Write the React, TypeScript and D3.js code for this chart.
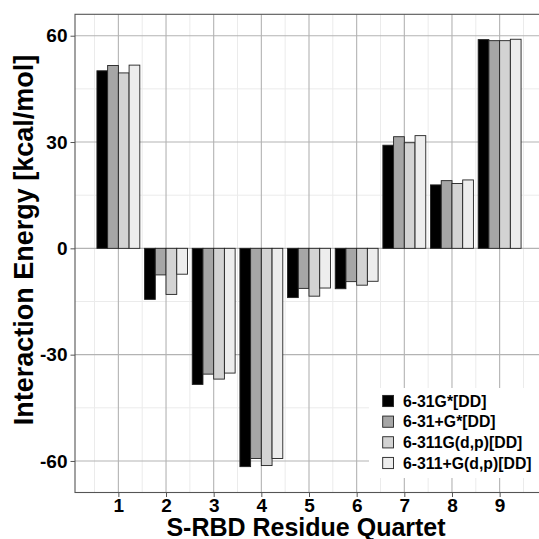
import React, { useRef, useEffect } from 'react';
import * as d3 from 'd3';

// residue quartets on the x axis
const quartets = [1, 2, 3, 4, 5, 6, 7, 8, 9];

// basis sets (legend order)
const basisSets = ['6-31G*[DD]', '6-31+G*[DD]', '6-311G(d,p)[DD]', '6-311+G(d,p)[DD]'];
const basisColors = ['#000000', '#a6a6a6', '#d3d3d3', '#ededed'];

// interaction energies, kcal/mol
const b631G = [50.1, -14.4, -38.4, -61.6, -13.9, -11.4, 29.1, 17.9, 58.9];
const b631pG = [51.6, -7.5, -35.5, -59.3, -11.3, -9.4, 31.5, 19.1, 58.6];
const b6311G = [49.5, -13.0, -36.9, -61.3, -13.5, -10.4, 29.8, 18.3, 58.6];
const b6311pG = [51.7, -7.3, -35.2, -59.3, -11.2, -9.3, 31.8, 19.3, 59.0];

const yTicks = [-60, -30, 0, 30, 60];
const yMinor = [-45, -15, 15, 45];

const W = 539;
const H = 539;
const FONT = '"Liberation Sans", Arial, sans-serif';

const App = () => {
  const svgRef = useRef<SVGSVGElement>(null);

  useEffect(() => {
    const svg = d3.select(svgRef.current);
    svg.selectAll('*').remove();

    const series = [b631G, b631pG, b6311G, b6311pG];
    const left = 75, right = 543, top = 14.3, bottom = 492.5;

    const x = d3.scaleLinear().domain([0.09, 9.91]).range([left, right]);
    const y = d3.scaleLinear().domain([-68.9, 66.04]).range([bottom, top]);
    const dodge = d3.scaleBand<number>().domain(d3.range(basisSets.length)).range([-0.45, 0.45]);

    svg.append('rect')
      .attr('x', left).attr('y', top)
      .attr('width', right - left).attr('height', bottom - top)
      .attr('fill', '#fff');

    // minor grid
    const xMinor = quartets.map((q) => q - 0.5).concat([9.5]);
    svg.append('g').selectAll('line').data(xMinor).join('line')
      .attr('x1', (d) => x(d)).attr('x2', (d) => x(d))
      .attr('y1', top).attr('y2', bottom)
      .attr('stroke', '#ebebeb').attr('stroke-width', 1);
    svg.append('g').selectAll('line').data(yMinor).join('line')
      .attr('x1', left).attr('x2', right)
      .attr('y1', (d) => y(d)).attr('y2', (d) => y(d))
      .attr('stroke', '#ebebeb').attr('stroke-width', 1);

    // major grid
    svg.append('g').selectAll('line').data(quartets).join('line')
      .attr('x1', (d) => x(d)).attr('x2', (d) => x(d))
      .attr('y1', top).attr('y2', bottom)
      .attr('stroke', '#b3b3b3').attr('stroke-width', 1.1);
    svg.append('g').selectAll('line').data(yTicks).join('line')
      .attr('x1', left).attr('x2', right)
      .attr('y1', (d) => y(d)).attr('y2', (d) => y(d))
      .attr('stroke', '#b3b3b3').attr('stroke-width', 1.1);

    // bars
    series.forEach((vals, si) => {
      svg.append('g').selectAll('rect').data(vals).join('rect')
        .attr('x', (d, i) => x(quartets[i] + dodge(si)!))
        .attr('width', x(dodge.bandwidth()) - x(0))
        .attr('y', (d) => y(Math.max(0, d)))
        .attr('height', (d) => Math.abs(y(d) - y(0)))
        .attr('fill', basisColors[si])
        .attr('stroke', '#222')
        .attr('stroke-width', 0.9);
    });

    // panel border
    svg.append('rect')
      .attr('x', left).attr('y', top)
      .attr('width', right - left).attr('height', bottom - top)
      .attr('fill', 'none').attr('stroke', '#555').attr('stroke-width', 1.1);

    // axes (plain hyphen for negatives, like the original)
    const fmt = (d) => String(d);
    const xAxis = svg.append('g')
      .attr('transform', `translate(0, ${bottom})`)
      .call(d3.axisBottom(x).tickValues(quartets).tickSize(4.5).tickPadding(2).tickFormat(fmt));
    const yAxis = svg.append('g')
      .attr('transform', `translate(${left}, 0)`)
      .call(d3.axisLeft(y).tickValues(yTicks).tickSize(4.5).tickPadding(3).tickFormat(fmt));
    [xAxis, yAxis].forEach((ax) => {
      ax.select('.domain').remove();
      ax.selectAll('line').attr('stroke', '#555');
      ax.selectAll('text')
        .attr('fill', '#000')
        .style('font-family', FONT)
        .style('font-weight', 'bold')
        .style('font-size', '19px');
    });

    // axis titles
    svg.append('text')
      .attr('x', 306).attr('y', 535.5)
      .attr('text-anchor', 'middle')
      .style('font-family', FONT).style('font-weight', 'bold').style('font-size', '25px')
      .text('S-RBD Residue Quartet');
    svg.append('text')
      .attr('transform', 'translate(33, 240) rotate(-90)')
      .attr('text-anchor', 'middle')
      .style('font-family', FONT).style('font-weight', 'bold').style('font-size', '27px')
      .text('Interaction Energy [kcal/mol]');

    // legend
    const legend = svg.append('g');
    legend.append('rect')
      .attr('x', 369).attr('y', 388).attr('width', 175).attr('height', 90)
      .attr('fill', '#fff');
    const row = d3.scalePoint<number>().domain(d3.range(basisSets.length)).range([401, 463]);
    basisSets.forEach((name, i) => {
      legend.append('rect')
        .attr('x', 382.7).attr('y', row(i)! - 5.6)
        .attr('width', 10.8).attr('height', 11.2)
        .attr('fill', basisColors[i]).attr('stroke', '#222').attr('stroke-width', 0.9);
      legend.append('text')
        .attr('x', 403).attr('y', row(i)! + 5.6)
        .style('font-family', FONT).style('font-weight', 'bold').style('font-size', '15.8px')
        .text(name);
    });
  }, []);

  return (
    <svg ref={svgRef} width={W} height={H}
      style={{ position: 'absolute', left: 0, top: 0, background: '#fff' }} />
  );
};

export default App;
